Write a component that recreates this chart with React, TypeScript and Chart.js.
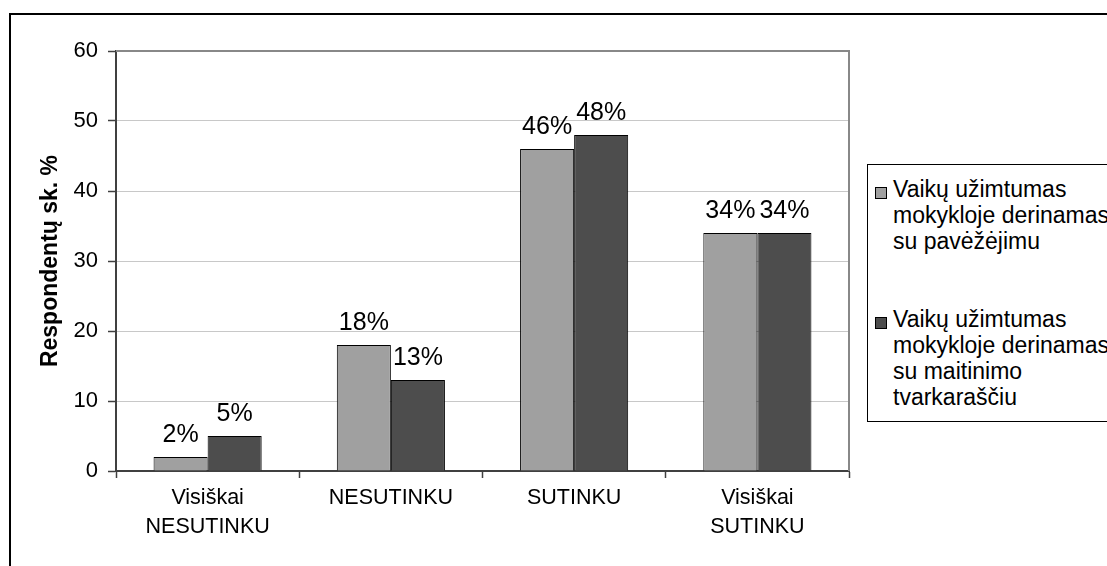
import React, { useEffect, useRef } from "react";
import { Chart, registerables } from "chart.js";

Chart.register(...registerables);

const FONT = '"Liberation Sans", Arial, Helvetica, sans-serif';

const categories: (string | string[])[] = [
  ["Visiškai", "NESUTINKU"],
  "NESUTINKU",
  "SUTINKU",
  ["Visiškai", "SUTINKU"],
];
const seriesNames = [
  "Vaikų užimtumas mokykloje derinamas su pavėžėjimu",
  "Vaikų užimtumas mokykloje derinamas su maitinimo tvarkaraščiu",
];
const transportValues = [2, 18, 46, 34];
const mealValues = [5, 13, 48, 34];
const seriesColors = ["#a0a0a0", "#4d4d4d"];
const yMin = 0;
const yMax = 60;
const yStep = 10;
const yTitle = "Respondentų sk. %";
const legendLines = [
  ["Vaikų užimtumas", "mokykloje derinamas", "su pavėžėjimu"],
  ["Vaikų užimtumas", "mokykloje derinamas", "su maitinimo", "tvarkaraščiu"],
];

const valueLabels = {
  id: "valueLabels",
  afterDatasetsDraw(chart: any) {
    const ctx = chart.ctx;
    ctx.save();
    ctx.font = `25px ${FONT}`;
    ctx.fillStyle = "#000";
    ctx.textAlign = "center";
    ctx.textBaseline = "alphabetic";
    chart.data.datasets.forEach((ds: any, i: number) => {
      const meta = chart.getDatasetMeta(i);
      meta.data.forEach((bar: any, j: number) => {
        ctx.fillText(`${ds.data[j]}%`, bar.x, bar.y - 15);
      });
    });
    ctx.restore();
  },
};

const plotBorder = {
  id: "plotBorder",
  beforeDatasetsDraw(chart: any) {
    const { ctx, chartArea } = chart;
    ctx.save();
    ctx.strokeStyle = "#888888";
    ctx.lineWidth = 2;
    ctx.beginPath();
    ctx.moveTo(chartArea.left, chartArea.top);
    ctx.lineTo(chartArea.right, chartArea.top);
    ctx.lineTo(chartArea.right, chartArea.bottom);
    ctx.stroke();
    ctx.restore();
  },
};

export default function App() {
  const canvasRef = useRef<HTMLCanvasElement | null>(null);

  useEffect(() => {
    if (!canvasRef.current) return;
    Chart.defaults.font.family = FONT;
    const chart = new Chart(canvasRef.current, {
      type: "bar",
      data: {
        labels: categories,
        datasets: [
          {
            label: seriesNames[0],
            data: transportValues,
            backgroundColor: seriesColors[0],
            borderColor: "#000",
            borderWidth: 1,
            categoryPercentage: 0.59,
            barPercentage: 1,
          },
          {
            label: seriesNames[1],
            data: mealValues,
            backgroundColor: seriesColors[1],
            borderColor: "#000",
            borderWidth: 1,
            categoryPercentage: 0.59,
            barPercentage: 1,
          },
        ],
      },
      options: {
        responsive: false,
        animation: false,
        devicePixelRatio: 1,
        layout: { padding: { left: 0, top: 51, right: 258, bottom: 0 } },
        plugins: {
          legend: { display: false },
          tooltip: { enabled: false },
        },
        scales: {
          x: {
            afterFit: (s: any) => {
              s.height = 95;
            },
            grid: {
              drawOnChartArea: false,
              tickLength: 7,
              tickColor: "#404040",
              tickWidth: 1.5,
            },
            border: { color: "#404040", width: 2 },
            ticks: {
              color: "#000",
              font: { size: 21.5, lineHeight: 1.35 },
              padding: 6,
              maxRotation: 0,
              autoSkip: false,
            },
          },
          y: {
            min: yMin,
            max: yMax,
            afterFit: (s: any) => {
              s.width = 116;
            },
            grid: {
              color: "#c8c8c8",
              lineWidth: 1,
              tickLength: 8,
              tickColor: "#404040",
              tickWidth: 1.5,
            },
            border: { color: "#404040", width: 2 },
            ticks: {
              stepSize: yStep,
              color: "#000",
              font: { size: 22 },
              padding: 10,
            },
            title: {
              display: true,
              text: yTitle,
              color: "#000",
              font: { size: 23, weight: "bold" },
              padding: { top: 37, bottom: 0 },
            },
          },
        },
      },
      plugins: [plotBorder, valueLabels],
    } as any);
    return () => chart.destroy();
  }, []);

  const entryTops = [11, 141];

  return (
    <div
      style={{
        position: "absolute",
        left: 0,
        top: 0,
        width: 1107,
        height: 566,
        overflow: "hidden",
        background: "#fff",
      }}
    >
      <div
        style={{
          position: "absolute",
          left: 9,
          top: 13,
          width: 1300,
          height: 800,
          border: "2px solid #000",
        }}
      />
      <canvas
        ref={canvasRef}
        width={1107}
        height={566}
        style={{ position: "absolute", left: 0, top: 0, width: 1107, height: 566 }}
      />
      <div
        style={{
          position: "absolute",
          left: 867,
          top: 164,
          width: 400,
          height: 258,
          boxSizing: "border-box",
          border: "1px solid #000",
          background: "#fff",
          fontFamily: FONT,
          fontSize: 23,
          lineHeight: "26px",
          color: "#000",
        }}
      >
        {legendLines.map((lines, i) => (
          <div key={i} style={{ position: "absolute", left: 0, top: entryTops[i] }}>
            <div
              style={{
                position: "absolute",
                left: 7,
                top: 11,
                width: 12,
                height: 12,
                boxSizing: "border-box",
                border: "1px solid #000",
                background: seriesColors[i],
              }}
            />
            <div style={{ position: "absolute", left: 25, top: 0, whiteSpace: "nowrap" }}>
              {lines.map((l, k) => (
                <div key={k}>{l}</div>
              ))}
            </div>
          </div>
        ))}
      </div>
    </div>
  );
}
